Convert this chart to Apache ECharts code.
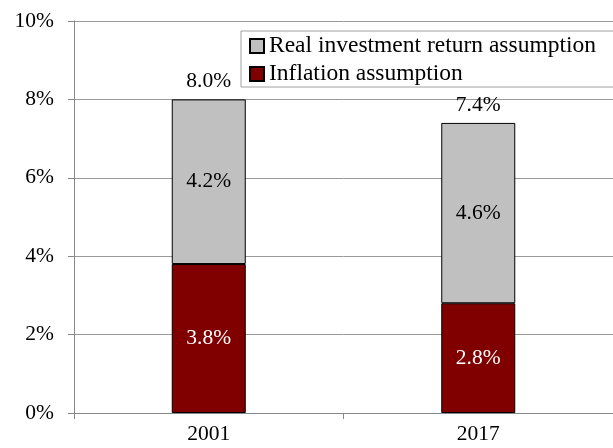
<!DOCTYPE html>
<html>
<head>
<meta charset="utf-8">
<script src="https://cdn.jsdelivr.net/npm/echarts@6/dist/echarts.min.js"></script>
<style>html,body{margin:0;padding:0;background:#fff;}#c{width:613px;height:448px;}</style>
</head>
<body>
<div id="c"></div>
<script>
const categories = ['2001', '2017'];
const inflation = [3.8, 2.8];
const realReturn = [4.2, 4.6];
const totals = [8.0, 7.4];
const yTicks = [0, 2, 4, 6, 8, 10];

const FONT = '"Liberation Serif", "Times New Roman", serif';
const chart = echarts.init(document.getElementById('c'));
chart.setOption({
  animation: false,
  backgroundColor: '#ffffff',
  textStyle: { fontFamily: FONT },
  grid: { left: 74, top: 21, width: 544, height: 392, containLabel: false },
  legend: {
    data: ['Real investment return assumption', 'Inflation assumption'],
    orient: 'vertical',
    left: 241, top: 31,
    padding: [3, 80, 1, 8],
    itemGap: 4,
    itemWidth: 14, itemHeight: 14,
    icon: 'rect',
    backgroundColor: '#ffffff',
    borderColor: '#a0a0a0', borderWidth: 1,
    textStyle: { fontFamily: FONT, fontSize: 23.5, color: '#000' }
  },
  xAxis: {
    type: 'category',
    data: categories,
    axisLine: { lineStyle: { color: '#888888', width: 1 } },
    axisTick: { show: true, length: 6, lineStyle: { color: '#888888' } },
    axisLabel: { fontFamily: FONT, fontSize: 21.5, color: '#000', margin: 10 }
  },
  yAxis: {
    type: 'value',
    min: 0, max: 10, interval: 2,
    axisLine: { show: true, lineStyle: { color: '#888888' } },
    axisTick: { show: true, length: 6, lineStyle: { color: '#888888' } },
    splitLine: { lineStyle: { color: '#999999', width: 1 } },
    axisLabel: { fontFamily: FONT, fontSize: 21.5, color: '#000', margin: 20,
      formatter: v => yTicks.includes(v) ? v + '%' : '' }
  },
  series: [
    {
      name: 'Inflation assumption', type: 'bar', stack: 's', barWidth: 74,
      data: inflation,
      itemStyle: { color: '#800000', borderColor: '#000', borderWidth: 1 },
      label: { show: true, position: 'inside', fontFamily: FONT, fontSize: 21.5, color: '#fff',
        formatter: p => p.value.toFixed(1) + '%' }
    },
    {
      name: 'Real investment return assumption', type: 'bar', stack: 's', barWidth: 74,
      data: realReturn,
      itemStyle: { color: '#c0c0c0', borderColor: '#000', borderWidth: 1 },
      label: { show: true, position: 'inside', fontFamily: FONT, fontSize: 21.5, color: '#000',
        formatter: p => p.value.toFixed(1) + '%' }
    },
    {
      name: 'total', type: 'scatter', data: totals, symbolSize: 0, silent: true,
      itemStyle: { opacity: 1 },
      label: { show: true, position: 'top', distance: 7, fontFamily: FONT, fontSize: 21.5, color: '#000',
        formatter: p => p.value.toFixed(1) + '%' }
    }
  ]
});
</script>
</body>
</html>
